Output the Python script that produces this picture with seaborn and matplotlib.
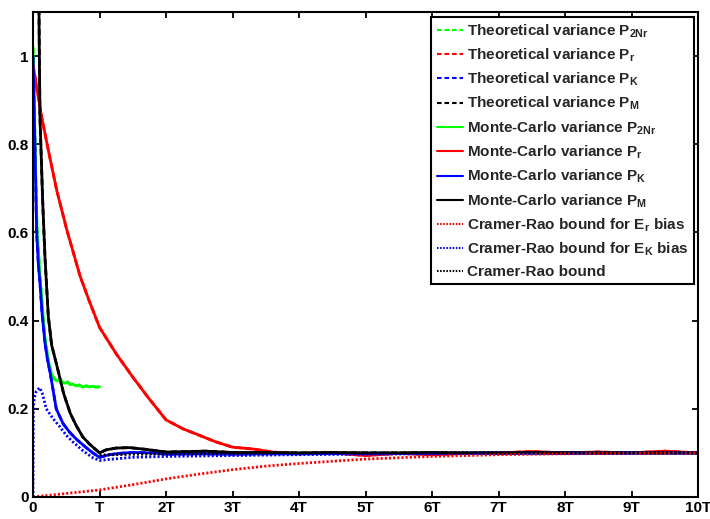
import numpy as np
import pandas as pd
import matplotlib
matplotlib.use("Agg")
import matplotlib.pyplot as plt
import seaborn as sns

# time axis in units of the period T
t_green = [0, 0.015, 0.03, 0.06, 0.11, 0.18, 0.23, 0.28, 0.32, 0.36, 0.40,
           0.44, 0.48, 0.52, 0.56, 0.6, 0.65, 0.7, 0.75, 0.8, 0.85, 0.9, 0.95, 1.0]
mc_2nr = [1.02, 0.92, 0.8, 0.61, 0.49, 0.36, 0.31, 0.278, 0.268, 0.263, 0.268,
          0.26, 0.258, 0.261, 0.255, 0.256, 0.252, 0.254, 0.249, 0.252, 0.25, 0.251, 0.249, 0.25]

t_red = [0, 0.13, 0.23, 0.356, 0.51, 0.71, 0.85, 1.0, 1.25, 1.5, 1.75, 2.0, 2.25, 2.5, 2.75,
         3.0, 3.3, 3.6, 4.0, 4.5, 5.0, 5.5, 6.0, 6.5, 7.0, 7.5, 8.0, 8.5, 9.0, 9.5, 10]
mc_r = [0.98, 0.862, 0.787, 0.696, 0.605, 0.5, 0.443, 0.385, 0.325, 0.272, 0.222, 0.175,
        0.155, 0.14, 0.125, 0.113, 0.109, 0.102, 0.098, 0.1, 0.094, 0.099, 0.096, 0.099,
        0.1, 0.103, 0.1, 0.102, 0.1, 0.104, 0.1]

t_blue = [0, 0.015, 0.03, 0.055, 0.08, 0.105, 0.14, 0.18, 0.22, 0.26, 0.35, 0.45, 0.55,
          0.66, 0.8, 0.9, 1.0, 1.15, 1.3, 1.5, 1.8, 2.0, 2.5, 3.0, 3.5, 4.0, 5.0, 6.0, 7.0,
          8.0, 9.0, 10]
mc_k = [1.0, 0.9, 0.79, 0.6, 0.53, 0.485, 0.41, 0.35, 0.31, 0.28, 0.2, 0.167, 0.147, 0.13,
        0.112, 0.1, 0.09, 0.096, 0.099, 0.101, 0.1, 0.097, 0.098, 0.097, 0.098, 0.098, 0.099,
        0.099, 0.1, 0.1, 0.1, 0.1]

t_black = [0, 0.07, 0.095, 0.105, 0.145, 0.18, 0.23, 0.28, 0.38, 0.46, 0.56, 0.65, 0.75,
           0.85, 1.0, 1.1, 1.25, 1.45, 1.7, 2.0, 2.3, 2.6, 3.0, 3.5, 4.0, 4.5, 5.0, 5.5, 6.0,
           6.5, 7.0, 7.5, 8.0, 8.5, 9.0, 9.5, 10]
mc_m = [4.0, 1.5, 1.01, 0.86, 0.673, 0.544, 0.41, 0.345, 0.285, 0.235, 0.19, 0.162, 0.136,
        0.12, 0.1, 0.107, 0.111, 0.112, 0.108, 0.102, 0.103, 0.104, 0.101, 0.101, 0.1, 0.101,
        0.1, 0.1, 0.101, 0.1, 0.1, 0.101, 0.1, 0.1, 0.1, 0.1, 0.1]

t_crb_r = [0, 0.5, 1, 1.5, 2, 2.5, 3, 3.5, 4, 5, 6, 7, 8, 9, 10]
crb_r = [0, 0.008, 0.016, 0.028, 0.041, 0.052, 0.062, 0.07, 0.076, 0.086, 0.092, 0.096,
         0.098, 0.099, 0.1]

t_crb_k = [0, 0.005, 0.02, 0.05, 0.1, 0.14, 0.2, 0.3, 0.4, 0.5, 0.6, 0.75, 0.9, 1.0, 1.2,
           1.5, 2, 3, 4, 5, 6, 8, 10]
crb_k = [0, 0.2, 0.225, 0.24, 0.248, 0.235, 0.2, 0.178, 0.16, 0.14, 0.125, 0.105, 0.089,
         0.083, 0.086, 0.09, 0.092, 0.094, 0.096, 0.097, 0.098, 0.099, 0.1]

t_crb = [1, 1.5, 2, 3, 4, 5, 6, 7, 8, 9, 10]
crb = [0.095, 0.097, 0.098, 0.099, 0.1, 0.1, 0.1, 0.1, 0.1, 0.1, 0.1]

x_ticks = list(range(11))
x_tick_labels = ["0", "T", "2T", "3T", "4T", "5T", "6T", "7T", "8T", "9T", "10T"]
y_ticks = [0, 0.2, 0.4, 0.6, 0.8, 1.0]
y_tick_labels = ["0", "0.2", "0.4", "0.6", "0.8", "1"]

sns.set_style("ticks")
plt.rcParams.update({
    "font.family": ["Liberation Sans", "DejaVu Sans"],
    "font.weight": "bold",
    "font.size": 11,
    "mathtext.fontset": "custom",
    "mathtext.rm": "Liberation Sans:bold",
    "mathtext.bf": "Liberation Sans:bold",
    "mathtext.it": "Liberation Sans:bold",
})

fig = plt.figure(figsize=(7.1, 5.19), dpi=100)
ax = fig.add_axes([33 / 710, 22 / 519, 665 / 710, 485 / 519])

lw = 2.0
series = [
    (t_green, mc_2nr, (0, 1, 0), "--", r"Theoretical variance P$_{\mathbf{2Nr}}$"),
    (t_red, mc_r, (1, 0, 0), "--", r"Theoretical variance P$_{\mathbf{r}}$"),
    (t_blue, mc_k, (0, 0, 1), "--", r"Theoretical variance P$_{\mathbf{K}}$"),
    (t_black, mc_m, (0, 0, 0), "--", r"Theoretical variance P$_{\mathbf{M}}$"),
    (t_green, mc_2nr, (0, 1, 0), "-", r"Monte-Carlo variance P$_{\mathbf{2Nr}}$"),
    (t_red, mc_r, (1, 0, 0), "-", r"Monte-Carlo variance P$_{\mathbf{r}}$"),
    (t_blue, mc_k, (0, 0, 1), "-", r"Monte-Carlo variance P$_{\mathbf{K}}$"),
    (t_black, mc_m, (0, 0, 0), "-", r"Monte-Carlo variance P$_{\mathbf{M}}$"),
    (t_crb_r, crb_r, (1, 0, 0), ":", r"Cramer-Rao bound for E$_{\mathbf{r}}$ bias"),
    (t_crb_k, crb_k, (0, 0, 1), ":", r"Cramer-Rao bound for E$_{\mathbf{K}}$ bias"),
    (t_crb, crb, (0, 0, 0), ":", "Cramer-Rao bound"),
]

dash_patterns = {"--": (2.2, 1.4), ":": (0.75, 0.75)}
for tx, vy, col, ls, lab in series:
    df = pd.DataFrame({"t": tx, "v": vy})
    sns.lineplot(data=df, x="t", y="v", color=col, linestyle=ls, linewidth=lw,
                 label=lab, ax=ax, estimator=None, sort=False)
    if ls in dash_patterns:
        ax.lines[-1].set_dashes(dash_patterns[ls])

ax.set_xlim(0, 10)
ax.set_ylim(0, 1.1)
ax.set_xticks(x_ticks)
ax.set_xticklabels(x_tick_labels, fontweight="bold", fontsize=11)
ax.set_yticks(y_ticks)
ax.set_yticklabels(y_tick_labels, fontweight="bold", fontsize=11)
ax.set_xlabel("")
ax.set_ylabel("")
ax.tick_params(direction="in", top=True, right=True, length=4, width=1.3, pad=3,
               colors="black")
for sp in ax.spines.values():
    sp.set_visible(True)
    sp.set_linewidth(1.5)
    sp.set_color("black")

leg = ax.legend(loc="upper right", bbox_to_anchor=(0.994, 0.99), borderaxespad=0,
                fancybox=False, framealpha=1, edgecolor="black",
                handlelength=1.7, handletextpad=0.3, labelspacing=0.45,
                borderpad=0.35, prop={"weight": "bold", "size": 11})
leg.get_frame().set_linewidth(1.5)
for hl in leg.get_lines():
    hl.set_linewidth(1.5)

fig.savefig("out.png", dpi=100)
